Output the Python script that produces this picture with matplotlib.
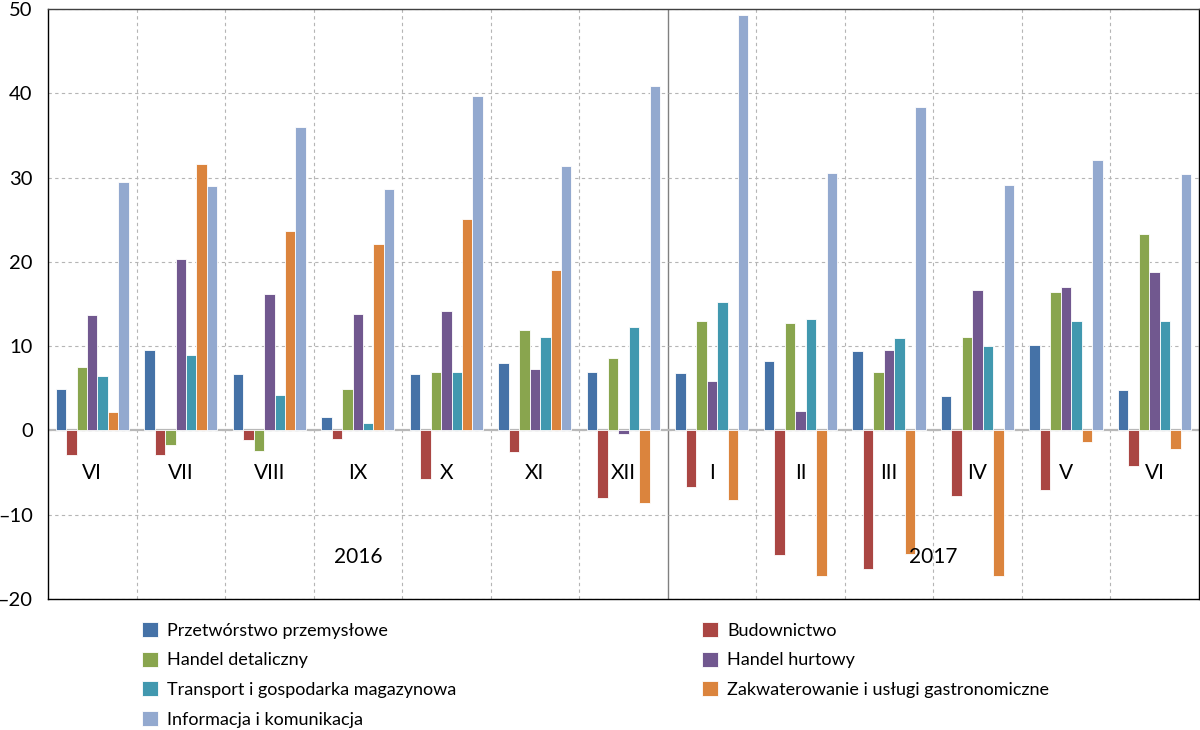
import numpy as np
import matplotlib.pyplot as plt
from matplotlib.patches import Patch

plt.rcParams['font.family'] = ['Lato', 'DejaVu Sans']

months = ["VI", "VII", "VIII", "IX", "X", "XI", "XII", "I", "II", "III", "IV", "V", "VI"]
series_names = ["Przetwórstwo przemysłowe", "Budownictwo", "Handel detaliczny", "Handel hurtowy",
                "Transport i gospodarka magazynowa", "Zakwaterowanie i usługi gastronomiczne",
                "Informacja i komunikacja"]
colors = ["#4572A7", "#AA4643", "#89A54E", "#71588F", "#4198AF", "#DB843D", "#93A9CF"]

przetworstwo = [4.9, 9.5, 6.7, 1.6, 6.7, 8.0, 6.9, 6.8, 8.2, 9.4, 4.1, 10.1, 4.8]
budownictwo = [-2.9, -2.9, -1.1, -1.0, -5.8, -2.5, -8.0, -6.7, -14.8, -16.4, -7.8, -7.1, -4.2]
detal = [7.5, -1.7, -2.4, 4.9, 6.9, 11.9, 8.6, 13.0, 12.8, 6.9, 11.1, 16.4, 23.3]
hurt = [13.7, 20.3, 16.2, 13.8, 14.2, 7.3, -0.4, 5.9, 2.3, 9.5, 16.7, 17.0, 18.8]
transport = [6.5, 8.9, 4.2, 0.9, 6.9, 11.1, 12.3, 15.2, 13.2, 11.0, 10.0, 13.0, 13.0]
zakwater = [2.2, 31.6, 23.7, 22.1, 25.1, 19.0, -8.6, -8.2, -17.3, -14.7, -17.3, -1.4, -2.2]
informacja = [29.5, 29.0, 36.0, 28.6, 39.7, 31.4, 40.9, 49.3, 30.5, 38.4, 29.1, 32.1, 30.4]
data = [przetworstwo, budownictwo, detal, hurt, transport, zakwater, informacja]

fig = plt.figure(figsize=(12, 7.3), dpi=100)
ax = fig.add_axes([0.04, 0.1795, 0.959, 0.808])

x = np.arange(len(months))
w = 0.118
for k, vals in enumerate(data):
    ax.bar(x + (k - 3) * w, vals, width=w, color=colors[k], edgecolor="white", linewidth=0.6, zorder=3)

ax.set_xlim(-0.5, len(months) - 0.5)
ax.set_ylim(-20, 50)
ax.set_yticks(range(-20, 51, 10))
ax.set_yticklabels([str(v).replace("-", "\u2013") for v in range(-20, 51, 10)], fontsize=14.5)
ax.tick_params(axis="y", length=0, pad=11)
ax.set_xticks([])
ax.grid(axis="y", linestyle=(0, (3, 3)), color="#b5b5b5", linewidth=0.8, zorder=0)
for b in x[:-1] + 0.5:
    if b == 6.5:
        ax.axvline(b, color="#808080", linewidth=1.0, zorder=1)
    else:
        ax.axvline(b, linestyle=(0, (3, 3)), color="#b5b5b5", linewidth=0.8, zorder=0)
ax.axhline(0, color="#b8b8b8", linewidth=1.6, zorder=2)

for i, m in enumerate(months):
    ax.text(i, -5, m, ha="center", va="center", fontsize=15, zorder=4)
ax.text(3, -15, "2016", ha="center", va="center", fontsize=15, zorder=4)
ax.text(9.5, -15, "2017", ha="center", va="center", fontsize=15, zorder=4)

for s in ax.spines.values():
    s.set_color("black")
    s.set_linewidth(1.0)
ax.spines["top"].set_color("#404040")

h = [Patch(facecolor=c, edgecolor="white", linewidth=0.6) for c in colors]
leg_kw = dict(frameon=False, fontsize=13, handlelength=0.9, handleheight=0.9,
              handletextpad=0.5, labelspacing=0.72, borderaxespad=0, borderpad=0)
fig.legend([h[i] for i in (0, 2, 4, 6)], [series_names[i] for i in (0, 2, 4, 6)],
           loc="upper left", bbox_to_anchor=(0.118, 0.148), **leg_kw)
fig.legend([h[i] for i in (1, 3, 5)], [series_names[i] for i in (1, 3, 5)],
           loc="upper left", bbox_to_anchor=(0.585, 0.148), **leg_kw)

plt.savefig("out.png", dpi=100)
